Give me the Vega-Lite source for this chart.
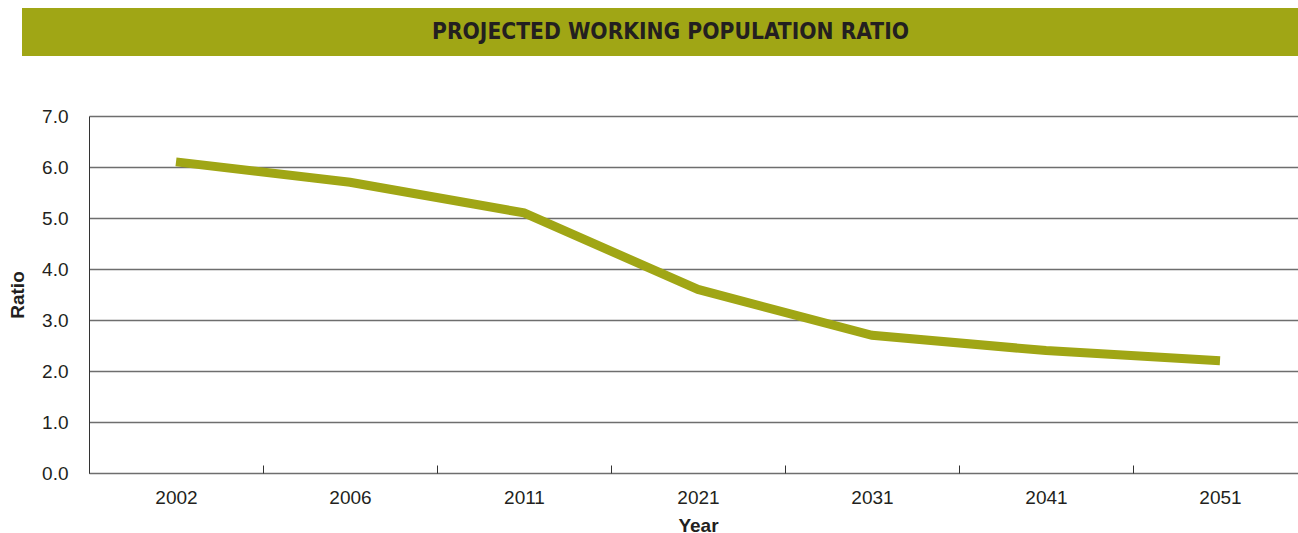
{
  "$schema": "https://vega.github.io/schema/vega-lite/v6.json",
  "padding": {"left": -2, "top": 8, "right": 0, "bottom": 0},
  "background": "white",
  "spacing": 51,
  "config": {"font": "Liberation Sans", "view": {"stroke": null}},
  "datasets": {
    "title": [{"title": "PROJECTED WORKING POPULATION RATIO"}],
    "ratio": [
      {"year": "2002", "ratio": 6.1},
      {"year": "2006", "ratio": 5.7},
      {"year": "2011", "ratio": 5.1},
      {"year": "2021", "ratio": 3.6},
      {"year": "2031", "ratio": 2.7},
      {"year": "2041", "ratio": 2.4},
      {"year": "2051", "ratio": 2.2}
    ]
  },
  "vconcat": [
    {
      "width": 1230,
      "height": 48,
      "view": {"fill": "#A0A615", "stroke": null},
      "data": {"name": "title"},
      "mark": {"type": "text", "font": "DejaVu Sans Condensed, Roboto, sans-serif", "fontWeight": "bold", "fontSize": 22.6, "color": "#231F20", "dx": -33.5},
      "encoding": {
        "y": {"field": "title", "type": "nominal", "axis": {"title": null, "labels": false, "domain": false, "ticks": true, "translate": 0, "tickSize": 67, "tickWidth": 48, "tickCap": "butt", "tickColor": "#A0A615", "grid": false}},
        "text": {"field": "title"}
      }
    },
    {
      "width": 1218,
      "height": 357,
      "data": {"name": "ratio"},
      "mark": {"type": "line", "color": "#A0A615", "strokeWidth": 9, "strokeCap": "butt"},
      "encoding": {
        "x": {
          "field": "year", "type": "ordinal",
          "scale": {"type": "band", "paddingInner": 0, "paddingOuter": 0},
          "axis": {"title": "Year", "domain": false, "ticks": true, "tickBand": "extent", "tickSize": -8, "tickColor": "#333333", "tickWidth": 1, "labelFontSize": 19, "labelColor": "#231F20", "labelPadding": 23, "labelAngle": 0, "titleFontSize": 19, "titleFontWeight": "bold", "titleColor": "#231F20", "titlePadding": 9, "grid": false}
        },
        "y": {
          "field": "ratio", "type": "quantitative",
          "scale": {"domain": [0, 7], "nice": false},
          "axis": {"title": "Ratio", "values": [0, 1, 2, 3, 4, 5, 6, 7], "format": ".1f", "domain": true, "domainColor": "#333333", "domainWidth": 1, "ticks": false, "grid": true, "gridColor": "#6e6e6e", "gridWidth": 1.6, "labelFontSize": 19, "labelPadding": 21, "labelColor": "#231F20", "titleFontSize": 19, "titleFontWeight": "bold", "titleColor": "#231F20", "titlePadding": 14}
        }
      }
    }
  ]
}
